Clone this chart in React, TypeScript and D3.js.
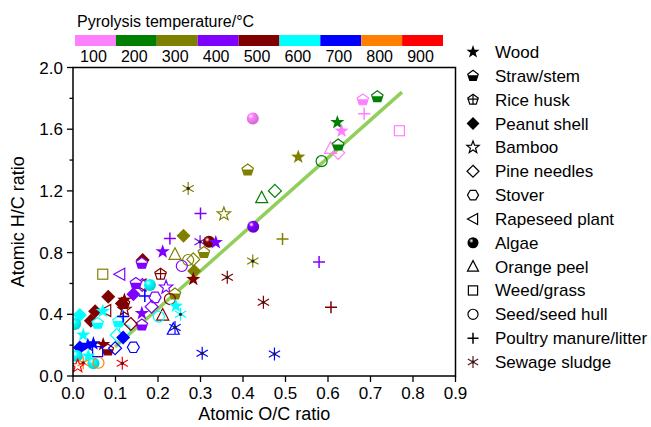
import React from "react";
import * as d3 from "d3";

// pyrolysis temperatures and their colours
const temperatures = [100, 200, 300, 400, 500, 600, 700, 800, 900];
const tempColors = ["#ff80ff", "#008000", "#808000", "#8000ff", "#800000", "#00ffff", "#0000ff", "#ff8000", "#ff0000"];

// feedstock types (legend order)
const feedstocks = [
  "Wood", "Straw/stem", "Rice husk", "Peanut shell", "Bamboo", "Pine needles", "Stover",
  "Rapeseed plant", "Algae", "Orange peel", "Weed/grass", "Seed/seed hull",
  "Poultry manure/litter", "Sewage sludge",
];

const xTickValues = [0, 0.1, 0.2, 0.3, 0.4, 0.5, 0.6, 0.7, 0.8, 0.9];
const xTickLabels = ["0.0", "0.1", "0.2", "0.3", "0.4", "0.5", "0.6", "0.7", "0.8", "0.9"];
const yTickValues = [0, 0.4, 0.8, 1.2, 1.6, 2.0];
const yTickLabels = ["0.0", "0.4", "0.8", "1.2", "1.6", "2.0"];
const yMinorValues = [0.2, 0.6, 1.0, 1.4, 1.8];

// fitted trend line, end points
const fitOC = [0.099, 0.774];
const fitHC = [0.19, 1.84];

// [feedstock, temperature, O/C, H/C]
const points: [string, number, number, number][] = [
  ["Seed/seed hull", 200, 0.585, 1.393],
  ["Orange peel", 200, 0.444, 1.156],
  ["Pine needles", 200, 0.475, 1.2],
  ["Orange peel", 100, 0.606, 1.476],
  ["Pine needles", 100, 0.624, 1.447],
  ["Weed/grass", 100, 0.768, 1.59],
  ["Poultry manure/litter", 100, 0.685, 1.7],
  ["Straw/stem", 100, 0.682, 1.79],
  ["Straw/stem", 200, 0.716, 1.81],
  ["Straw/stem", 200, 0.624, 1.497],
  ["Wood", 200, 0.622, 1.644],
  ["Wood", 100, 0.632, 1.588],
  ["Wood", 300, 0.53, 1.42],
  ["Algae", 100, 0.423, 1.67],
  ["Straw/stem", 300, 0.411, 1.335],
  ["Sewage sludge", 300, 0.271, 1.216],
  ["Bamboo", 300, 0.355, 1.05],
  ["Poultry manure/litter", 400, 0.3, 1.054],
  ["Algae", 400, 0.424, 0.968],
  ["Poultry manure/litter", 300, 0.493, 0.888],
  ["Poultry manure/litter", 400, 0.579, 0.739],
  ["Poultry manure/litter", 500, 0.607, 0.445],
  ["Sewage sludge", 300, 0.423, 0.745],
  ["Sewage sludge", 500, 0.363, 0.64],
  ["Sewage sludge", 500, 0.448, 0.478],
  ["Sewage sludge", 700, 0.304, 0.147],
  ["Sewage sludge", 700, 0.474, 0.143],
  ["Peanut shell", 300, 0.26, 0.909],
  ["Poultry manure/litter", 400, 0.228, 0.892],
  ["Sewage sludge", 400, 0.299, 0.87],
  ["Algae", 500, 0.32, 0.87],
  ["Wood", 400, 0.336, 0.866],
  ["Wood", 400, 0.211, 0.806],
  ["Orange peel", 300, 0.24, 0.789],
  ["Seed/seed hull", 300, 0.271, 0.752],
  ["Pine needles", 300, 0.283, 0.756],
  ["Straw/stem", 300, 0.308, 0.8],
  ["Peanut shell", 500, 0.164, 0.752],
  ["Straw/stem", 400, 0.162, 0.73],
  ["Seed/seed hull", 400, 0.256, 0.713],
  ["Peanut shell", 300, 0.285, 0.68],
  ["Wood", 500, 0.283, 0.627],
  ["Weed/grass", 300, 0.07, 0.66],
  ["Rapeseed plant", 400, 0.11, 0.66],
  ["Rice husk", 500, 0.206, 0.66],
  ["Rapeseed plant", 500, 0.16, 0.59],
  ["Pine needles", 400, 0.163, 0.59],
  ["Straw/stem", 400, 0.148, 0.6],
  ["Algae", 600, 0.181, 0.59],
  ["Bamboo", 400, 0.219, 0.575],
  ["Straw/stem", 300, 0.24, 0.531],
  ["Seed/seed hull", 500, 0.228, 0.499],
  ["Peanut shell", 500, 0.083, 0.514],
  ["Peanut shell", 400, 0.142, 0.53],
  ["Poultry manure/litter", 700, 0.169, 0.518],
  ["Stover", 400, 0.193, 0.51],
  ["Straw/stem", 500, 0.12, 0.47],
  ["Peanut shell", 500, 0.115, 0.47],
  ["Wood", 500, 0.121, 0.493],
  ["Bamboo", 500, 0.121, 0.432],
  ["Pine needles", 400, 0.185, 0.449],
  ["Wood", 400, 0.162, 0.406],
  ["Straw/stem", 400, 0.162, 0.33],
  ["Wood", 600, 0.242, 0.454],
  ["Sewage sludge", 600, 0.253, 0.4],
  ["Orange peel", 500, 0.211, 0.395],
  ["Seed/seed hull", 600, 0.202, 0.385],
  ["Orange peel", 700, 0.236, 0.303],
  ["Sewage sludge", 700, 0.24, 0.315],
  ["Peanut shell", 500, 0.052, 0.42],
  ["Peanut shell", 500, 0.042, 0.358],
  ["Rapeseed plant", 500, 0.077, 0.424],
  ["Wood", 600, 0.07, 0.42],
  ["Peanut shell", 600, 0.016, 0.395],
  ["Algae", 600, 0.005, 0.337],
  ["Straw/stem", 600, 0.058, 0.341],
  ["Straw/stem", 600, 0.107, 0.352],
  ["Poultry manure/litter", 700, 0.118, 0.385],
  ["Seed/seed hull", 600, 0.122, 0.298],
  ["Pine needles", 500, 0.136, 0.337],
  ["Pine needles", 600, 0.103, 0.266],
  ["Wood", 600, 0.024, 0.266],
  ["Peanut shell", 700, 0.118, 0.25],
  ["Peanut shell", 700, 0.016, 0.184],
  ["Wood", 700, 0.035, 0.2],
  ["Wood", 700, 0.048, 0.21],
  ["Wood", 500, 0.071, 0.205],
  ["Straw/stem", 500, 0.082, 0.169],
  ["Pine needles", 700, 0.099, 0.18],
  ["Stover", 700, 0.142, 0.186],
  ["Weed/grass", 700, 0.058, 0.158],
  ["Wood", 600, 0.036, 0.13],
  ["Algae", 600, 0.009, 0.13],
  ["Algae", 600, 0.048, 0.082],
  ["Seed/seed hull", 800, 0.06, 0.086],
  ["Sewage sludge", 800, 0.024, 0.086],
  ["Bamboo", 900, 0.011, 0.065],
  ["Sewage sludge", 900, 0.116, 0.082],
];

const FONT = "'Liberation Sans', Arial, sans-serif";

function polyPath(n: number, r: number, start: number) {
  const pts = d3.range(n).map((i) => {
    const a = ((start + (360 / n) * i) * Math.PI) / 180;
    return [r * Math.cos(a), r * Math.sin(a)];
  });
  return "M" + pts.map((p) => p.join(",")).join("L") + "Z";
}

function starPath(R: number, r: number) {
  const pts = d3.range(10).map((i) => {
    const a = ((-90 + 36 * i) * Math.PI) / 180;
    const rr = i % 2 === 0 ? R : r;
    return [rr * Math.cos(a), rr * Math.sin(a)];
  });
  return "M" + pts.map((p) => p.join(",")).join("L") + "Z";
}

function Marker({ type, color, gradId, x, y, k = 1 }: { type: string; color: string; gradId: string; x: number; y: number; k?: number }) {
  const sw = 1.2 / k;
  const t = `translate(${x},${y}) scale(${k})`;
  switch (type) {
    case "Wood":
      return <path transform={t} d={starPath(7.5, 3)} fill={color} />;
    case "Bamboo":
      return <path transform={t} d={starPath(7, 2.9)} fill="none" stroke={color} strokeWidth={sw} />;
    case "Straw/stem":
      return (
        <g transform={t}>
          <path d={polyPath(5, 6, -90)} fill="white" stroke={color} strokeWidth={sw} />
          <path d="M-5.3,-0.6L5.3,-0.6L3.5,4.85L-3.5,4.85Z" fill={color} />
        </g>
      );
    case "Rice husk":
      return (
        <g transform={t} fill="none" stroke={color} strokeWidth={sw}>
          <path d={polyPath(5, 6, -90)} />
          <path d="M0,-6V4.85M-5.7,-0.6H5.7" />
        </g>
      );
    case "Peanut shell":
      return <path transform={t} d="M0,-7L7,0L0,7L-7,0Z" fill={color} />;
    case "Pine needles":
      return <path transform={t} d="M0,-6.5L6.5,0L0,6.5L-6.5,0Z" fill="none" stroke={color} strokeWidth={sw} />;
    case "Stover":
      return <path transform={t} d={polyPath(6, 6, 0)} fill="none" stroke={color} strokeWidth={sw} />;
    case "Rapeseed plant":
      return <path transform={t} d="M-6,0L5,-6L5,6Z" fill="none" stroke={color} strokeWidth={sw} />;
    case "Orange peel":
      return <path transform={t} d="M0,-6.5L6,5L-6,5Z" fill="none" stroke={color} strokeWidth={sw} />;
    case "Weed/grass":
      return <rect transform={t} x={-5} y={-5} width={10} height={10} fill="none" stroke={color} strokeWidth={sw} />;
    case "Seed/seed hull":
      return <circle transform={t} r={5.5} fill="none" stroke={color} strokeWidth={sw} />;
    case "Algae":
      return <circle transform={t} r={6} fill={`url(#${gradId})`} />;
    case "Poultry manure/litter":
      return <path transform={t} d="M-6,0H6M0,-6V6" stroke={color} strokeWidth={1.5 / k} />;
    case "Sewage sludge": {
      const arms = [90, 30, 150].map((deg) => {
        const a = (deg * Math.PI) / 180;
        const dx = 6.5 * Math.cos(a);
        const dy = 6.5 * Math.sin(a);
        return `M${-dx},${-dy}L${dx},${dy}`;
      });
      return (
        <g transform={t}>
          <path d={arms.join("")} stroke={color} strokeWidth={sw} />
          <circle r={1.6} fill="#222" />
        </g>
      );
    }
    default:
      return null;
  }
}

export default function App() {
  const width = 651;
  const height = 427;

  const x = d3.scaleLinear().domain([0, 0.9]).range([73, 455.5]);
  const y = d3.scaleLinear().domain([0, 2.0]).range([376, 67.5]);
  const color = d3.scaleOrdinal<number, string>().domain(temperatures).range(tempColors);
  const band = d3.scaleBand<number>().domain(temperatures).range([75, 443]).padding(0);
  const legendY = d3.scalePoint<string>().domain(feedstocks).range([52, 362]);

  const fitLine = d3.line<number>()
    .x((d) => x(fitOC[d]))
    .y((d) => y(fitHC[d]));

  return (
    <svg width={width} height={height} style={{ position: "absolute", left: 0, top: 0, background: "white" }} fontFamily={FONT}>
      <defs>
        {temperatures.map((tp) => (
          <radialGradient key={tp} id={`ball-${tp}`} cx="35%" cy="32%" r="70%">
            <stop offset="0%" stopColor="#ffffff" />
            <stop offset="30%" stopColor={color(tp)} />
            <stop offset="100%" stopColor={d3.color(color(tp))!.darker(0.6).formatHex()} />
          </radialGradient>
        ))}
        <radialGradient id="ball-legend" cx="35%" cy="32%" r="70%">
          <stop offset="0%" stopColor="#ffffff" />
          <stop offset="30%" stopColor="#000" />
          <stop offset="100%" stopColor="#000" />
        </radialGradient>
        <clipPath id="plot-clip">
          <rect x={x(0)} y={y(2)} width={x(0.9) - x(0)} height={y(0) - y(2)} />
        </clipPath>
      </defs>

      {/* colour bar */}
      <text x={77} y={27} fontSize={16}>Pyrolysis temperature/°C</text>
      {temperatures.map((tp, i) => (
        <g key={tp}>
          <rect x={band(tp)} y={35} width={band.bandwidth()} height={11} fill={color(tp)} />
          <text x={band(tp)! + band.bandwidth() / 2 - 2} y={62} fontSize={16} textAnchor="middle">{temperatures[i]}</text>
        </g>
      ))}

      {/* trend line */}
      <path d={fitLine([0, 1])!} stroke="#92cf5a" strokeWidth={3.5} fill="none" />

      {/* points */}
      <g clipPath="url(#plot-clip)">
        {points.map(([type, tp, oc, hc], i) => (
          <Marker key={i} type={type} color={color(tp)} gradId={`ball-${tp}`} x={x(oc)} y={y(hc)} />
        ))}
      </g>

      {/* frame */}
      <rect x={x(0)} y={y(2)} width={x(0.9) - x(0)} height={y(0) - y(2)} fill="none" stroke="black" strokeWidth={1.5} />

      {/* x axis */}
      {xTickValues.map((v, i) => (
        <g key={v}>
          <line x1={x(v)} x2={x(v)} y1={y(0)} y2={y(0) + 6} stroke="black" strokeWidth={1.3} />
          <text x={x(v)} y={y(0) + 23} fontSize={17} textAnchor="middle">{xTickLabels[i]}</text>
        </g>
      ))}
      <text x={(x(0) + x(0.9)) / 2} y={420} fontSize={18} textAnchor="middle">Atomic O/C ratio</text>

      {/* y axis */}
      {yTickValues.map((v, i) => (
        <g key={v}>
          <line x1={x(0) - 6} x2={x(0)} y1={y(v)} y2={y(v)} stroke="black" strokeWidth={1.3} />
          <text x={x(0) - 10} y={y(v) + 6} fontSize={17} textAnchor="end">{yTickLabels[i]}</text>
        </g>
      ))}
      {yMinorValues.map((v) => (
        <line key={v} x1={x(0) - 3.5} x2={x(0)} y1={y(v)} y2={y(v)} stroke="black" strokeWidth={1.3} />
      ))}
      <text transform={`translate(24,${(y(0) + y(2)) / 2}) rotate(-90)`} fontSize={18} textAnchor="middle">Atomic H/C ratio</text>

      {/* legend */}
      {feedstocks.map((f) => (
        <g key={f}>
          <Marker type={f} color={f === "Sewage sludge" ? "#5a1a1a" : "#000"} gradId="ball-legend" x={473} y={legendY(f)!} k={0.92} />
          <text x={495} y={legendY(f)! + 6} fontSize={17}>{f}</text>
        </g>
      ))}
    </svg>
  );
}
